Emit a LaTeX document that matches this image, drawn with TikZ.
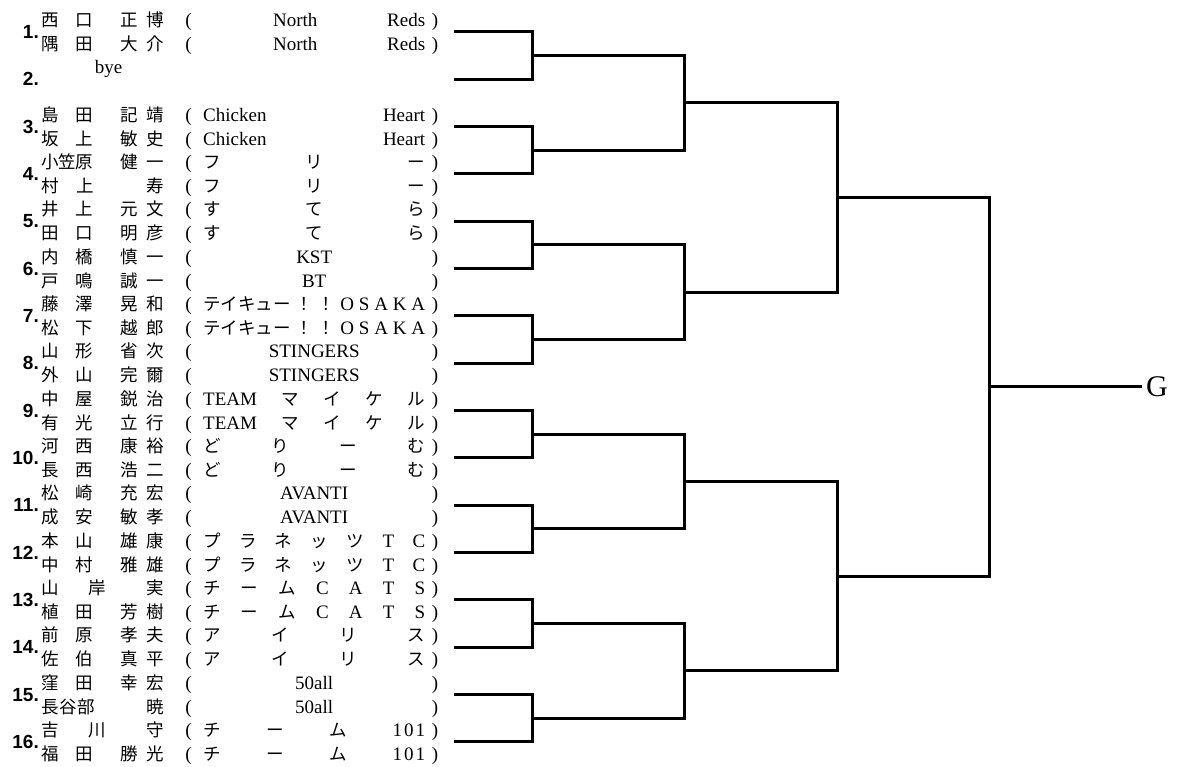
\documentclass[tikz,border=0pt]{standalone}
\usepackage{fontspec}
\setmainfont{Liberation Serif}
\setsansfont{Liberation Sans}
\newfontfamily\jpfont{Noto Sans CJK JP}
\usepackage{tikz}
\usetikzlibrary{
	calc
}

\tikzset{
	bracket/.style={line width=3pt, line join=miter},
	numlabel/.style={anchor=east, inner sep=0pt, font=\sffamily\bfseries\fontsize{19}{19}\selectfont},
	namelabel/.style={anchor=base west, inner sep=0pt, font=\jpfont\fontsize{17.5}{17.5}\selectfont},
	teamlabel/.style={anchor=base west, inner sep=0pt, font=\jpfont\fontsize{17.5}{17.5}\selectfont},
	parenlabel/.style={anchor=base, inner sep=0pt, font=\rmfamily\fontsize{19}{19}\selectfont}
}
\newcommand{\lat}[1]{{\rmfamily\fontsize{19}{19}\selectfont #1}}
\newcommand{\nmA}[4]{#1\kern16.5pt#2\kern27.5pt#3\kern8.5pt#4}
% #1 number, #2/#3 names, #4/#5 teams
\newcommand{\pairentry}[5]{%
	\pgfmathsetmacro{\ey}{32+(#1-1)*47.33}
	\coordinate (s#1) at (454,\ey);
	\node[numlabel] (no#1) at (39,\ey) {#1.};
	\node[namelabel] (na#1) at (41.25,\ey-5.5) {#2};
	\node[namelabel] (nb#1) at (41.25,\ey+18.5) {#3};
	\node[parenlabel] (lpa#1) at (188.5,\ey-5.5) {(};
	\node[parenlabel] (lpb#1) at (188.5,\ey+18.5) {(};
	\node[teamlabel] (ta#1) at (203,\ey-5.5) {\hbox to 222pt{#4}};
	\node[teamlabel] (tb#1) at (203,\ey+18.5) {\hbox to 222pt{#5}};
	\node[parenlabel] (rpa#1) at (435,\ey-5.5) {)};
	\node[parenlabel] (rpb#1) at (435,\ey+18.5) {)};
}

\begin{document}
\begin{tikzpicture}[x=1pt, y=-1pt]
	\useasboundingbox (0,0) rectangle (1182,767);
	\pairentry{1}{\nmA 西口正博}{\nmA 隅田大介}{\hfill\lat{North}\hfill\lat{Reds}}{\hfill\lat{North}\hfill\lat{Reds}}
	\coordinate (s2) at (454,79.33);
	\node[numlabel] (no2) at (39,79.33) {2.};
	\node[parenlabel] (bye) at (108.5,73.8) {bye};
	\pairentry{3}{\nmA 島田記靖}{\nmA 坂上敏史}{\lat{Chicken}\hfill\lat{Heart}}{\lat{Chicken}\hfill\lat{Heart}}
	\pairentry{4}{小\kern-0.5pt笠\kern-0.5pt原\kern27.5pt健\kern8.5pt一}{村\kern17.5pt上\kern52.5pt寿}{フ\hfill リ\hfill ー}{フ\hfill リ\hfill ー}
	\pairentry{5}{\nmA 井上元文}{\nmA 田口明彦}{す\hfill て\hfill ら}{す\hfill て\hfill ら}
	\pairentry{6}{\nmA 内橋慎一}{\nmA 戸鳴誠一}{\hfil\lat{KST}\hfil}{\hfil\lat{BT}\hfil}
	\pairentry{7}{\nmA 藤澤晃和}{\nmA 松下越郎}{テイキュー\hfill！\hfill！\hfill\lat{O}\hfill\lat{S}\hfill\lat{A}\hfill\lat{K}\hfill\lat{A}}{テイキュー\hfill！\hfill！\hfill\lat{O}\hfill\lat{S}\hfill\lat{A}\hfill\lat{K}\hfill\lat{A}}
	\pairentry{8}{\nmA 山形省次}{\nmA 外山完爾}{\hfil\lat{STINGERS}\hfil}{\hfil\lat{STINGERS}\hfil}
	\pairentry{9}{\nmA 中屋鋭治}{\nmA 有光立行}{\lat{TEAM}\hfill マ\hfill イ\hfill ケ\hfill ル}{\lat{TEAM}\hfill マ\hfill イ\hfill ケ\hfill ル}
	\pairentry{10}{\nmA 河西康裕}{\nmA 長西浩二}{ど\hfill り\hfill ー\hfill む}{ど\hfill り\hfill ー\hfill む}
	\pairentry{11}{\nmA 松崎充宏}{\nmA 成安敏孝}{\hfil\lat{AVANTI}\hfil}{\hfil\lat{AVANTI}\hfil}
	\pairentry{12}{\nmA 本山雄康}{\nmA 中村雅雄}{プ\hfill ラ\hfill ネ\hfill ッ\hfill ツ\hfill\lat{T}\hfill\lat{C}}{プ\hfill ラ\hfill ネ\hfill ッ\hfill ツ\hfill\lat{T}\hfill\lat{C}}
	\pairentry{13}{山\kern29.5pt岸\kern40.5pt実}{\nmA 植田芳樹}{チ\hfill ー\hfill ム\hfill\lat{C}\hfill\lat{A}\hfill\lat{T}\hfill\lat{S}}{チ\hfill ー\hfill ム\hfill\lat{C}\hfill\lat{A}\hfill\lat{T}\hfill\lat{S}}
	\pairentry{14}{\nmA 前原孝夫}{\nmA 佐伯真平}{ア\hfill イ\hfill リ\hfill ス}{ア\hfill イ\hfill リ\hfill ス}
	\pairentry{15}{\nmA 窪田幸宏}{長\kern0.5pt谷\kern0.5pt部\kern51.5pt暁}{\hfil\lat{50all}\hfil}{\hfil\lat{50all}\hfil}
	\pairentry{16}{吉\kern29.5pt川\kern40.5pt守}{\nmA 福田勝光}{チ\hfill ー\hfill ム\hfill\lat{1\kern2pt0\kern2pt1}}{チ\hfill ー\hfill ム\hfill\lat{1\kern2pt0\kern2pt1}}

	\foreach \i in {1,...,8} {
		\pgfmathtruncatemacro{\lo}{2*\i-1}
		\pgfmathtruncatemacro{\hi}{2*\i}
		\coordinate (m1-\i) at ($(s\lo)!0.5!(s\hi)+(78,0)$);
		\draw[bracket] (s\lo) -| (m1-\i) |- (s\hi);
	}
	\foreach \i in {1,...,4} {
		\pgfmathtruncatemacro{\lo}{2*\i-1}
		\pgfmathtruncatemacro{\hi}{2*\i}
		\coordinate (m2-\i) at ($(m1-\lo)!0.5!(m1-\hi)+(152,0)$);
		\draw[bracket] (m1-\lo) -| (m2-\i) |- (m1-\hi);
	}
	\foreach \i in {1,2} {
		\pgfmathtruncatemacro{\lo}{2*\i-1}
		\pgfmathtruncatemacro{\hi}{2*\i}
		\coordinate (m3-\i) at ($(m2-\lo)!0.5!(m2-\hi)+(153,0)$);
		\draw[bracket] (m2-\lo) -| (m3-\i) |- (m2-\hi);
	}
	\coordinate (m4) at ($(m3-1)!0.5!(m3-2)+(152,0)$);
	\draw[bracket] (m3-1) -| (m4) |- (m3-2);
	\node[anchor=west, inner sep=4pt, font=\rmfamily\fontsize{30}{30}\selectfont] (G) at ($(m4)+(153,0)$) {G};
	\draw[bracket] (m4) -- (G.west);
\end{tikzpicture}
\end{document}
